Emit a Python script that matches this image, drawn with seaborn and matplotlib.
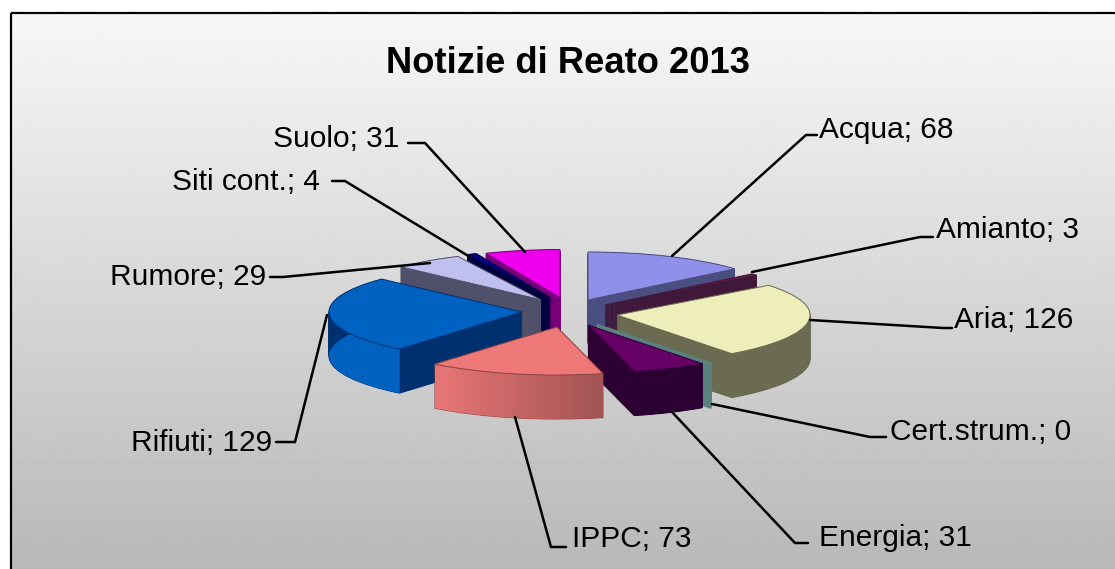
import numpy as np
import matplotlib
matplotlib.use("Agg")
import matplotlib.pyplot as plt
from matplotlib.patches import Polygon, Rectangle
from matplotlib.colors import LinearSegmentedColormap
import seaborn as sns

categories = ["Acqua", "Amianto", "Aria", "Cert.strum.", "Energia",
              "IPPC", "Rifiuti", "Rumore", "Siti cont.", "Suolo"]
values = [68, 3, 126, 0, 31, 73, 129, 29, 4, 31]

top_colors = ["#9090ea", "#6e1c46", "#eeeebb", "#5a8080", "#660066",
              "#ee7777", "#0062c0", "#c0c0f0", "#000080", "#ee00ee"]
side_colors = ["#4a4e80", "#40183a", "#6b6b52", "#5a8080", "#2d0033",
               "#8a4444", "#003070", "#50506a", "#000040", "#77007a"]
wall_colors = ["#4a4e80", "#40183a", "#6b6b52", "#5a8080", "#2d0033",
               "#d56c6c", "#0062c0", "#50506a", "#000040", "#77007a"]

# how far each slice is pulled out, and a small vertical correction in pixels
explode = [0.173, 0.208, 0.225, 0.2, 0.171, 0.4, 0.27, 0.29, 0.3, 0.37]
lift_px = [5.5, 1.7, -0.6, -4.3, -4.6, 4.7, 1.8, 2, 2, -2]
draw_order = [9, 8, 7, 0, 1, 2, 6, 3, 4, 5]

W, H = 1115, 569
cx, cy = 574, 313   # pie centre in pixels
rx, ry = 193, 48    # squashed radius in pixels
depth_px = 44

# text position (left, middle) and leader line, in pixels
label_pos = [(819, 129.5), (936, 229.5), (954, 319.5), (890, 431.5), (819, 537.5),
             (572, 539), (131, 442.5), (110, 276.5), (172, 181.5), (273, 138.5)]
leaders = [[(672, 256), (806, 135), (817, 135)],
           [(752, 272), (920, 237), (933, 237)],
           [(810, 320), (943, 328), (952, 328)],
           [(712, 404), (870, 437), (886, 437)],
           [(672, 412), (795, 543), (808, 543)],
           [(515, 417), (551, 547), (566, 547)],
           [(327, 315), (295, 442), (276, 442)],
           [(430, 263), (283, 277), (270, 277)],
           [(470, 257), (345, 181), (332, 181)],
           [(525, 252), (425, 143), (408, 143)]]

sns.set_theme(style="white")
plt.rcParams["font.family"] = ["Liberation Sans", "DejaVu Sans"]

fig = plt.figure(figsize=(W / 100, H / 100), dpi=100, facecolor="white")

# background panel in pixel coordinates
bg = fig.add_axes([0, 0, 1, 1])
grad = np.linspace(247, 184, 256).reshape(-1, 1)
bg.imshow(grad, cmap="gray", vmin=0, vmax=255, aspect="auto",
          extent=(11, W, H, 12), zorder=0)
bg.set_xlim(0, W)
bg.set_ylim(H, 0)
bg.axis("off")
bg.add_patch(Rectangle((11, 12.5), W + 20, H + 20, fill=False, ec="black", lw=1.6, zorder=1))

# pie axes, one unit of radius is rx by ry pixels
ax = fig.add_axes([0, 0, 1, 1])
ax.patch.set_alpha(0)


def set_limits():
    ax.set_aspect("auto")
    ax.set_xlim(-cx / rx, (W - cx) / rx)
    ax.set_ylim(-(H - cy) / ry, cy / ry)


order_of = {idx: pos for pos, idx in enumerate(draw_order)}
for layer in range(depth_px, -1, -1):
    colors = side_colors if layer > 0 else top_colors
    wedges = ax.pie(values, explode=explode, colors=colors, startangle=90,
                    counterclock=False)[0]
    for i, w in enumerate(wedges):
        x0, y0 = w.center
        w.set_center((x0, y0 + (lift_px[i] - layer) / ry))
        w.set_zorder(order_of[i] * 10 + (3 if layer == 0 else 1))
        if values[i] == 0:
            w.set_edgecolor(top_colors[i])
            w.set_linewidth(2.0)
        else:
            w.set_edgecolor(side_colors[i])
            w.set_linewidth(0.7)
    if layer == 0:
        tops = wedges
set_limits()

# outer wall of every slice
shade = LinearSegmentedColormap.from_list("shade", ["#e97676", "#a25353"])
for i, w in enumerate(tops):
    if values[i] == 0:
        continue
    theta = np.radians(np.linspace(w.theta1, w.theta2, 80))
    xs = w.center[0] + np.cos(theta)
    ys = w.center[1] + np.sin(theta)
    d = depth_px / ry
    pts = np.r_[np.c_[xs, ys], np.c_[xs, ys - d][::-1]]
    z = order_of[i] * 10 + 2
    if categories[i] == "IPPC":
        poly = Polygon(pts, closed=True, fc="none", ec="none", zorder=z)
        ax.add_patch(poly)
        img = ax.imshow(np.linspace(0, 1, 256).reshape(1, -1), cmap=shade, aspect="auto",
                        extent=(xs.min(), xs.max(), ys.min() - d, ys.max()), zorder=z)
        img.set_clip_path(poly)
    else:
        ax.add_patch(Polygon(pts, closed=True, fc=wall_colors[i], ec="none", zorder=z))
set_limits()

# title, labels and leader lines go on top
fg = fig.add_axes([0, 0, 1, 1])
fg.set_xlim(0, W)
fg.set_ylim(H, 0)
fg.axis("off")
fg.text(568.5, 63, "Notizie di Reato 2013", ha="center", va="center",
        fontsize=26.2, fontweight="bold", color="black")
for name, val, pos, line in zip(categories, values, label_pos, leaders):
    fg.text(pos[0], pos[1], f"{name}; {val}", ha="left", va="center",
            fontsize=21.5, color="black")
    fg.plot(*zip(*line), color="black", lw=1.8, solid_joinstyle="miter")

fig.savefig("out.png", dpi=100)
